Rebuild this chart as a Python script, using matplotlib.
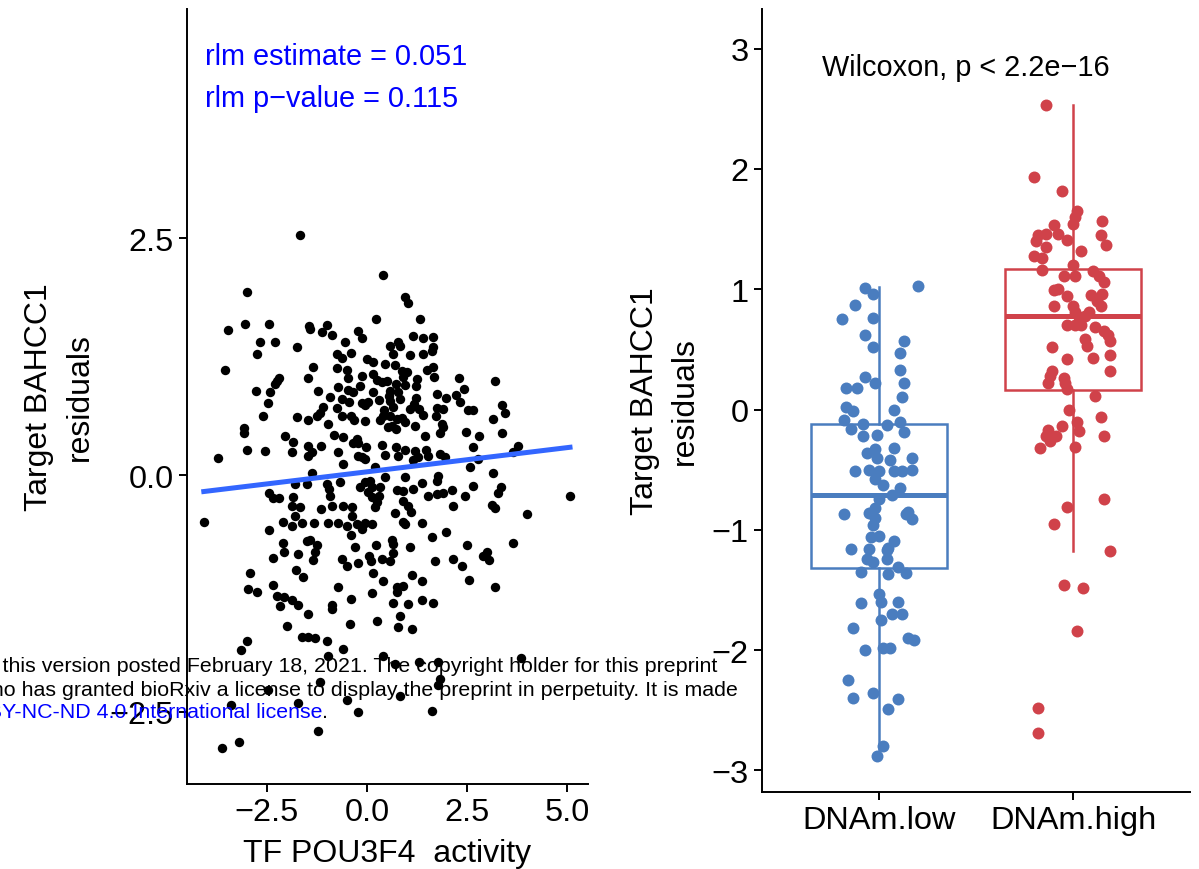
import numpy as np
import matplotlib.pyplot as plt

plt.rcParams['font.family'] = ['Liberation Sans', 'DejaVu Sans']

# left panel: TF activity vs target residuals
scatter_pts = [
    # outer points
    (-1.68, 2.53), (-3.0, 1.93), (-3.48, 1.53), (-3.05, 1.60), (-2.45, 1.59), (-1.45, 1.57), (-1.0, 1.58),
    (0.23, 1.65), (-2.68, 1.41), (-2.3, 1.40), (-2.75, 1.28), (-3.55, 1.11), (-2.2, 1.03), (-2.25, 0.99),
    (-2.3, 0.96), (-2.78, 0.89), (-2.43, 0.88), (-2.48, 0.76), (-2.6, 0.62),
    (0.4, 2.11), (0.95, 1.88), (1.03, 1.82), (1.33, 1.65), (2.3, 1.02), (3.2, 0.99), (2.43, 0.91),
    (2.23, 0.85), (2.33, 0.77), (3.38, 0.74), (3.45, 0.66), (2.53, 0.69), (2.65, 0.69), (3.15, 0.59),
    (-3.08, 0.5), (-3.08, 0.45), (-2.05, 0.41), (-3.0, 0.27), (-2.55, 0.25), (-3.73, 0.18), (-2.45, -0.19),
    (-2.35, -0.24), (-2.2, -0.24), (-4.08, -0.49), (-2.1, -0.49), (-2.45, -0.58), (-2.1, -0.72),
    (-2.08, -0.81), (-2.35, -0.87), (-2.93, -1.03), (-2.35, -1.16), (-2.98, -1.2), (-2.75, -1.23),
    (-2.25, -1.28), (-2.08, -1.29), (-2.18, -1.38),
    (2.48, 0.46), (2.8, 0.41), (3.38, 0.45), (2.65, 0.3), (2.78, 0.17), (3.78, 0.31), (3.65, 0.24),
    (2.58, 0.09), (3.15, 0.02), (2.13, -0.16), (2.65, -0.11), (3.35, -0.12), (3.28, -0.19), (2.45, -0.22),
    (5.08, -0.22), (2.15, -0.33), (3.13, -0.32), (3.2, -0.35), (4.0, -0.41), (2.5, -0.74), (3.65, -0.72),
    (2.15, -0.89), (2.38, -0.96), (2.9, -0.85), (3.0, -0.81), (3.05, -0.9), (2.55, -1.11), (3.2, -1.18),
    (-2.0, -1.59), (0.78, -1.6), (1.13, -1.62), (-1.63, -1.71), (-1.48, -1.71), (-1.3, -1.72), (-1.0, -1.75),
    (-3.0, -1.75), (-3.15, -1.85), (-0.6, -1.84), (-0.98, -1.91), (0.4, -1.91), (0.7, -1.99), (1.3, -1.97),
    (1.78, -1.97), (3.85, -1.93), (1.83, -2.15), (1.78, -2.22), (-1.18, -2.18), (-2.48, -2.27),
    (0.83, -2.33), (-0.5, -2.37), (-3.4, -2.43), (-1.73, -2.41), (-0.23, -2.5), (1.63, -2.49),
    (-1.23, -2.7), (-3.2, -2.82), (-3.63, -2.88),
    # central cloud, upper half
    (-1.43, 1.54), (-1.13, 1.51), (-0.88, 1.48), (-0.23, 1.52), (-0.13, 1.45), (-0.55, 1.40), (-1.75, 1.35),
    (0.58, 1.36), (0.78, 1.41), (0.83, 1.36), (1.15, 1.47), (1.40, 1.45), (1.65, 1.46), (1.65, 1.35),
    (1.63, 1.31), (-0.75, 1.28), (-0.63, 1.24), (-0.40, 1.29), (0.65, 1.28), (1.08, 1.27), (1.40, 1.28),
    (0.0, 1.23), (0.15, 1.19), (0.45, 1.17), (0.70, 1.16), (-1.35, 1.14), (-0.75, 1.13), (-0.50, 1.11),
    (0.88, 1.10), (1.0, 1.09), (0.90, 1.04), (1.50, 1.11), (1.65, 1.14), (1.68, 1.04), (-1.48, 1.02),
    (-0.48, 1.02), (-0.13, 1.05), (0.15, 1.07), (0.25, 1.0), (0.38, 0.98), (0.50, 0.99), (0.73, 0.96),
    (0.95, 0.95), (1.25, 1.01), (1.23, 0.94), (-1.23, 0.89), (-0.73, 0.93), (-0.48, 0.90), (-0.35, 0.88),
    (-0.18, 0.94), (0.15, 0.88), (0.58, 0.89), (0.55, 0.84), (0.78, 0.88), (1.75, 0.86), (1.98, 0.81),
    (-0.93, 0.82), (-0.63, 0.80), (-0.45, 0.77), (-0.13, 0.76), (0.03, 0.77), (-0.05, 0.74), (0.30, 0.79),
    (0.58, 0.78), (0.65, 0.72), (0.83, 0.80), (1.23, 0.81), (1.18, 0.75), (1.08, 0.70), (1.30, 0.70),
    (1.75, 0.71), (1.90, 0.70), (-1.10, 0.72), (-1.18, 0.66), (-1.25, 0.62), (-1.48, 0.58), (-0.75, 0.71),
    (-1.75, 0.61), (-0.63, 0.62), (-0.40, 0.62), (-0.33, 0.58), (-0.05, 0.57), (0.33, 0.58), (0.40, 0.62),
    (0.43, 0.69), (0.58, 0.62), (0.63, 0.52), (0.75, 0.59), (0.88, 0.60), (0.95, 0.56), (1.40, 0.63),
    (1.20, 0.52), (1.73, 0.62), (1.88, 0.54), (1.90, 0.51), (1.83, 0.44), (-0.98, 0.54), (0.53, 0.51),
    (0.73, 0.49), (-0.83, 0.42), (-0.60, 0.40), (-0.25, 0.38), (-0.23, 0.34), (-0.35, 0.34), (-0.03, 0.30),
    (0.38, 0.32), (1.45, 0.41), (-1.85, 0.35), (-1.88, 0.24), (-1.48, 0.31), (-1.38, 0.24), (-1.48, 0.20),
    (-1.15, 0.31), (-0.73, 0.24), (-0.23, 0.20), (-0.13, 0.19), (-0.05, 0.17), (0.45, 0.21), (0.73, 0.30),
    (0.78, 0.20), (0.95, 0.27), (1.20, 0.25), (1.28, 0.19), (1.15, 0.16), (1.48, 0.27), (1.53, 0.20),
    (1.83, 0.22), (1.95, 0.19), (-0.60, 0.12), (0.20, 0.09), (-1.38, 0.02), (1.78, -0.01),
    # central cloud, lower half
    (-1.80, -0.09), (-1.50, -0.09), (-1.0, -0.09), (-0.95, -0.15), (-0.68, -0.07), (-0.18, -0.13),
    (-0.05, -0.07), (0.08, -0.06), (0.13, -0.12), (0.03, -0.18), (0.13, -0.23), (0.25, -0.28), (0.20, -0.34),
    (0.33, -0.12), (0.45, -0.02), (0.30, -0.22), (0.95, -0.02), (1.38, -0.08), (1.75, -0.06), (0.75, -0.16),
    (0.90, -0.17), (1.15, -0.15), (1.53, -0.22), (1.75, -0.20), (1.90, -0.19), (0.90, -0.27), (1.03, -0.33),
    (1.10, -0.39), (-1.85, -0.23), (-1.88, -0.33), (-1.68, -0.34), (-1.80, -0.43), (-0.93, -0.22),
    (-0.88, -0.33), (-1.15, -0.36), (-0.60, -0.33), (-0.38, -0.34), (-0.38, -0.43), (0.70, -0.40),
    (0.90, -0.49), (0.95, -0.52), (1.38, -0.50), (-1.63, -0.51), (-1.33, -0.51), (-0.98, -0.50),
    (-0.73, -0.51), (-0.50, -0.54), (-0.25, -0.52), (-0.13, -0.57), (-0.05, -0.50), (0.13, -0.52),
    (-1.88, -0.54), (-0.40, -0.63), (1.63, -0.65), (1.98, -0.60), (-1.50, -0.69), (-1.43, -0.68),
    (-1.25, -0.74), (-1.30, -0.81), (-0.30, -0.76), (0.23, -0.74), (0.63, -0.68), (0.65, -0.73),
    (0.65, -0.82), (1.08, -0.76), (-1.73, -0.83), (-1.35, -0.90), (-0.63, -0.88), (-0.50, -0.96),
    (-0.23, -0.93), (0.05, -0.85), (0.10, -0.91), (0.38, -0.88), (0.58, -0.91), (1.70, -0.91),
    (-1.78, -1.0), (-1.60, -1.07), (0.15, -1.03), (0.40, -1.12), (1.13, -1.05), (1.38, -1.12),
    (-0.73, -1.18), (0.75, -1.18), (0.90, -1.17), (0.75, -1.23), (0.13, -1.24), (-1.88, -1.32),
    (-1.73, -1.37), (-0.88, -1.37), (-0.88, -1.41), (-0.40, -1.31), (0.65, -1.35), (1.03, -1.36),
    (1.38, -1.32), (1.65, -1.35), (-1.48, -1.47), (0.83, -1.49), (0.25, -1.54), (-0.43, -1.57),
]
tf_activity = [p[0] for p in scatter_pts]
target_resid = [p[1] for p in scatter_pts]

rlm_slope = 0.051
rlm_intercept = 0.035

# right panel: jitter offset and residual per sample
low_jit = [0.20, -0.07, -0.03, -0.12, -0.19, -0.03, -0.07, -0.03, 0.13, 0.11, 0.11, -0.07, -0.02, 0.13,
           -0.17, -0.11, 0.12, -0.17, -0.13, 0.08, -0.18, -0.08, -0.14, 0.04, 0.11, -0.08, -0.01, 0.13,
           -0.06, -0.02, -0.01, 0.08, 0.17, 0.06, -0.12, -0.05, 0.0, 0.08, 0.12, 0.17, -0.02, 0.02, 0.11,
           0.07, 0.0, -0.02, -0.05, -0.18, 0.15, 0.14, 0.17, -0.02, -0.03, -0.04, 0.0, 0.08, -0.14, -0.05,
           0.04, 0.05, -0.06, -0.03, 0.04, -0.09, 0.05, 0.10, 0.14, 0.0, 0.01, -0.09, 0.10, 0.01, 0.07,
           0.12, -0.13, 0.15, 0.18, -0.07, 0.02, 0.06, -0.16, -0.13, -0.03, 0.10, 0.05, 0.02, -0.01]
low_y = [1.03, 1.01, 0.96, 0.87, 0.75, 0.76, 0.62, 0.52, 0.57, 0.47, 0.33, 0.27, 0.22, 0.22,
         0.18, 0.18, 0.10, 0.02, -0.01, 0.0, -0.09, -0.12, -0.16, -0.13, -0.10, -0.22, -0.21, -0.19,
         -0.36, -0.33, -0.40, -0.32, -0.40, -0.42, -0.51, -0.50, -0.51, -0.51, -0.51, -0.50, -0.58, -0.63, -0.65,
         -0.71, -0.74, -0.82, -0.86, -0.87, -0.85, -0.87, -0.91, -0.90, -0.96, -1.06, -1.05, -1.09, -1.16, -1.16,
         -1.17, -1.15, -1.24, -1.27, -1.24, -1.35, -1.37, -1.31, -1.36, -1.53, -1.60, -1.61, -1.60, -1.75, -1.70,
         -1.70, -1.82, -1.90, -1.92, -2.0, -1.98, -1.98, -2.25, -2.40, -2.36, -2.41, -2.49, -2.80, -2.88]
high_jit = [-0.14, -0.20, -0.06, 0.02, 0.01, 0.0, 0.15, -0.10, -0.08, -0.14, -0.18, -0.19, -0.03, 0.14,
            0.17, -0.14, 0.04, -0.20, -0.16, 0.0, -0.16, -0.05, 0.01, 0.10, 0.13, 0.16, -0.10, -0.08,
            -0.03, 0.09, 0.15, -0.10, 0.0, 0.01, 0.12, 0.14, 0.08, 0.06, 0.03, -0.03, 0.01, 0.04, 0.11,
            0.16, 0.18, 0.19, 0.06, 0.07, -0.11, -0.03, 0.10, 0.19, 0.19, -0.11, -0.12, -0.13, -0.05, -0.04,
            -0.03, 0.11, -0.02, 0.14, 0.02, 0.03, -0.06, -0.13, -0.14, -0.09, 0.16, -0.12, -0.17, 0.01,
            0.16, -0.03, -0.10, 0.19, -0.05, 0.05, 0.02, -0.18, -0.18]
high_y = [2.53, 1.93, 1.82, 1.65, 1.60, 1.54, 1.57, 1.53, 1.46, 1.46, 1.45, 1.40, 1.41, 1.45,
          1.37, 1.35, 1.32, 1.28, 1.26, 1.20, 1.16, 1.11, 1.11, 1.15, 1.11, 1.06, 0.99, 1.00,
          0.94, 0.95, 0.96, 0.86, 0.86, 0.81, 0.90, 0.86, 0.81, 0.78, 0.77, 0.70, 0.70, 0.70, 0.69,
          0.65, 0.62, 0.57, 0.59, 0.53, 0.52, 0.42, 0.43, 0.45, 0.32, 0.32, 0.28, 0.22, 0.26, 0.22,
          0.17, 0.11, 0.0, -0.06, -0.10, -0.18, -0.14, -0.17, -0.22, -0.22, -0.22, -0.26, -0.32, -0.31,
          -0.74, -0.81, -0.95, -1.18, -1.46, -1.48, -1.84, -2.48, -2.69]

groups = ['DNAm.low', 'DNAm.high']
group_colors = ['#4A7DBF', '#D0424A']
box_stats = [
    dict(med=-0.71, q1=-1.32, q3=-0.12, whislo=-2.88, whishi=1.02),
    dict(med=0.78, q1=0.16, q3=1.17, whislo=-1.18, whishi=2.53),
]

fig = plt.figure(figsize=(11.99, 8.70), dpi=100)
W, H = 1199, 870
ax1 = fig.add_axes([187 / W, (H - 785) / H, (588 - 187) / W, (785 - 10) / H])
ax2 = fig.add_axes([762 / W, (H - 793) / H, (1190 - 762) / W, (793 - 10) / H])

fs_tick = 23.4
fs_lab = 23
for ax in (ax1, ax2):
    for s in ('top', 'right'):
        ax.spines[s].set_visible(False)
    for s in ('left', 'bottom'):
        ax.spines[s].set_linewidth(1.4)
    ax.tick_params(axis='both', labelsize=fs_tick, width=1.4, length=6, color='black', labelcolor='black')

# scatter panel
ax1.scatter(tf_activity, target_resid, s=46, color='black', linewidths=0, zorder=2)
xline = np.array([min(tf_activity), max(tf_activity)])
ax1.plot(xline, rlm_intercept + rlm_slope * xline, color='#3366FF', lw=3.6, zorder=3)
ax1.set_xlim(-4.5, 5.53)
ax1.set_ylim(-3.26, 4.92)
ax1.set_xticks([-2.5, 0.0, 2.5, 5.0])
ax1.set_yticks([-2.5, 0.0, 2.5])
ax1.set_xticklabels(['\u22122.5', '0.0', '2.5', '5.0'])
ax1.set_yticklabels(['\u22122.5', '0.0', '2.5'])
ax1.set_xlabel('TF POU3F4  activity', fontsize=fs_lab, labelpad=8)
ax1.set_ylabel('Target BAHCC1\nresiduals', fontsize=fs_lab, linespacing=1.45)
ax1.yaxis.set_label_coords(-0.23, 0.5)
ax1.text(-4.05, 4.42, 'rlm estimate = %.3f' % rlm_slope, color='blue', fontsize=20.8, va='center', ha='left')
ax1.text(-4.05, 3.98, 'rlm p\u2212value = 0.115', color='blue', fontsize=20.8, va='center', ha='left')

# box panel
ax2.bxp(box_stats, positions=[1, 2], widths=0.7, showfliers=False, showcaps=False, patch_artist=True,
        boxprops=dict(facecolor='white', linewidth=1.8),
        whiskerprops=dict(linewidth=1.8), medianprops=dict(linewidth=3.6))
for i, c in enumerate(group_colors):
    ax2.patches[i].set_edgecolor(c)
for ln in ax2.lines:
    ln.set_color(group_colors[0] if np.mean(ln.get_xdata()) < 1.5 else group_colors[1])
ax2.scatter(1 + np.array(low_jit), low_y, s=74, color=group_colors[0], linewidths=0, zorder=3)
ax2.scatter(2 + np.array(high_jit), high_y, s=74, color=group_colors[1], linewidths=0, zorder=3)
ax2.set_xlim(0.4, 2.6)
ax2.set_ylim(-3.18, 3.33)
ax2.set_xticks([1, 2])
ax2.set_xticklabels(groups)
ax2.set_yticks(range(-3, 4))
ax2.set_yticklabels([str(v).replace('-', '\u2212') for v in range(-3, 4)])
ax2.set_ylabel('Target BAHCC1\nresiduals', fontsize=fs_lab, linespacing=1.45)
ax2.yaxis.set_label_coords(-0.145, 0.5)
ax2.text(1.45, 2.85, 'Wilcoxon, p < 2.2e\u221216', fontsize=20.8, ha='center', va='center')

# bioRxiv notice overlay
wm = 15.4
fig.text(717 / W, 1 - 667 / H, 'bioRxiv preprint doi: https://doi.org/10.1101/2021.02.17.431617; this version posted '
         'February 18, 2021. The copyright holder for this preprint', fontsize=wm, ha='right', va='center')
fig.text(738 / W, 1 - 690 / H, '(which was not certified by peer review) is the author/funder, who has granted bioRxiv '
         'a license to display the preprint in perpetuity. It is made', fontsize=wm, ha='right', va='center')
fig.text(322 / W, 1 - 713 / H, 'aCC-BY-NC-ND 4.0 International license', fontsize=wm, ha='right', va='center',
         color='blue')
fig.text(322 / W, 1 - 713 / H, '.', fontsize=wm, ha='left', va='center')

fig.savefig('out.png', dpi=100)
